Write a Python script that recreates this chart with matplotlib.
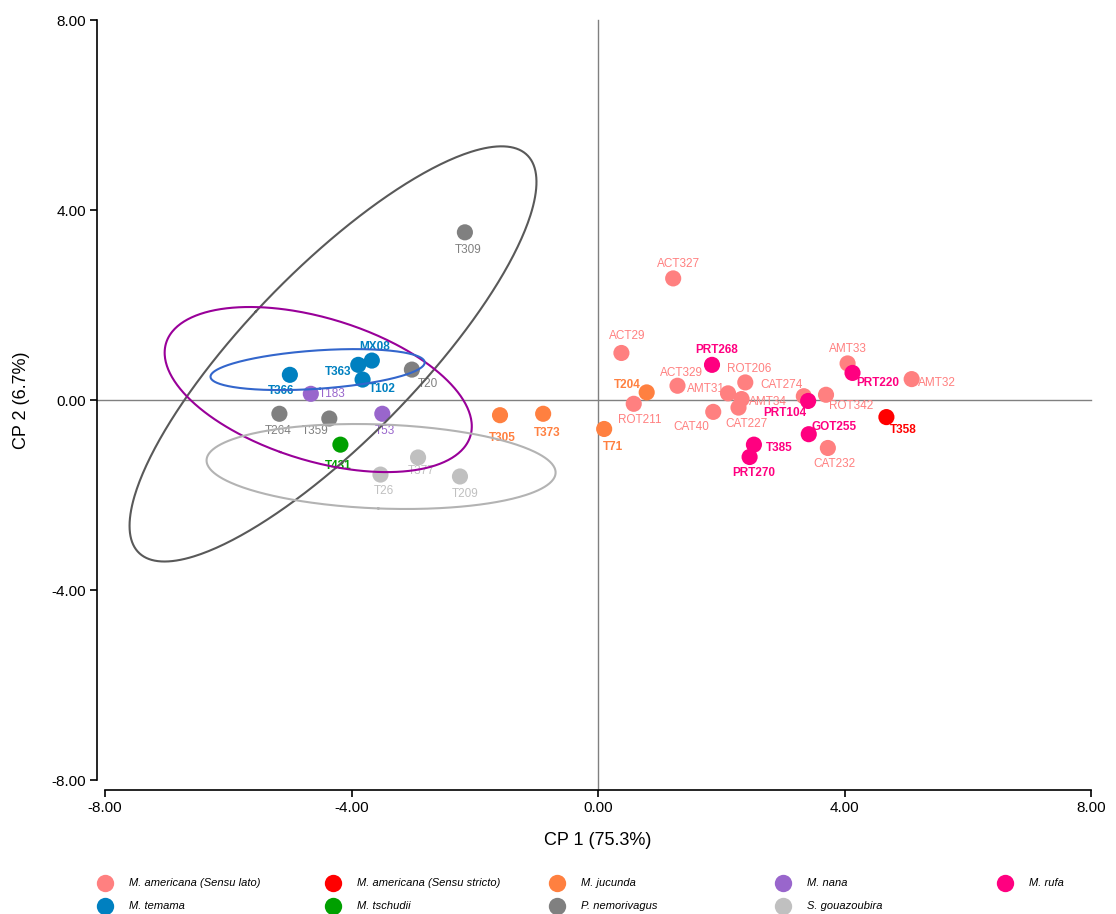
import numpy as np
import matplotlib.pyplot as plt
from matplotlib.lines import Line2D

plt.rcParams['font.family'] = ['Liberation Sans', 'DejaVu Sans']

# PCA scores (CP1, CP2) per specimen, grouped by species
lato_ids = ['ACT327', 'ACT29', 'ACT329', 'ROT211', 'ROT206', 'AMT31', 'AMT34',
            'CAT227', 'CAT40', 'CAT274', 'ROT342', 'AMT33', 'AMT32', 'CAT232']
lato_cp1 = [1.22, 0.38, 1.29, 0.58, 2.39, 2.11, 2.33, 2.28, 1.87, 3.34, 3.70, 4.05, 5.09, 3.73]
lato_cp2 = [2.56, 0.99, 0.30, -0.08, 0.37, 0.14, 0.02, -0.16, -0.25, 0.08, 0.11, 0.77, 0.44, -1.01]

stricto_ids = ['T358']
stricto_cp1 = [4.68]
stricto_cp2 = [-0.36]

jucunda_ids = ['T204', 'T305', 'T373', 'T71']
jucunda_cp1 = [0.79, -1.59, -0.89, 0.10]
jucunda_cp2 = [0.16, -0.32, -0.29, -0.61]

nana_ids = ['T183', 'T53']
nana_cp1 = [-4.66, -3.50]
nana_cp2 = [0.13, -0.29]

rufa_ids = ['PRT268', 'PRT220', 'PRT104', 'GOT255', 'T385', 'PRT270']
rufa_cp1 = [1.85, 4.13, 3.41, 3.42, 2.53, 2.46]
rufa_cp2 = [0.74, 0.57, -0.02, -0.72, -0.94, -1.20]

temama_ids = ['T366', 'T363', 'MX08', 'T102']
temama_cp1 = [-5.00, -3.89, -3.67, -3.82]
temama_cp2 = [0.53, 0.74, 0.83, 0.43]

tschudii_ids = ['T431']
tschudii_cp1 = [-4.18]
tschudii_cp2 = [-0.94]

nemo_ids = ['T309', 'T20', 'T264', 'T359']
nemo_cp1 = [-2.16, -3.02, -5.17, -4.36]
nemo_cp2 = [3.53, 0.64, -0.29, -0.39]

gouaz_ids = ['T26', 'T377', 'T209']
gouaz_cp1 = [-3.53, -2.92, -2.24]
gouaz_cp2 = [-1.57, -1.21, -1.61]

# confidence ellipses: centre and covariance-shape matrix (CP units)
nemo_ell_centre = (-4.30, 0.97)
nemo_ell_cov = [[10.9, 11.95], [11.95, 19.1]]
nana_ell_centre = (-4.54, 0.22)
nana_ell_cov = [[6.21, -1.93], [-1.93, 3.02]]
temama_ell_centre = (-4.55, 0.64)
temama_ell_cov = [[3.02, 0.26], [0.26, 0.186]]
gouaz_ell_centre = (-3.52, -1.40)
gouaz_ell_cov = [[8.02, -0.36], [-0.36, 0.80]]

groups = [
    ('M. americana (Sensu lato)', '#FF8080', 'normal', lato_ids, lato_cp1, lato_cp2),
    ('M. americana (Sensu stricto)', '#FF0000', 'bold', stricto_ids, stricto_cp1, stricto_cp2),
    ('M. jucunda', '#FF8040', 'bold', jucunda_ids, jucunda_cp1, jucunda_cp2),
    ('M. nana', '#9966CC', 'normal', nana_ids, nana_cp1, nana_cp2),
    ('M. rufa', '#FF0080', 'bold', rufa_ids, rufa_cp1, rufa_cp2),
    ('M. temama', '#0080C0', 'bold', temama_ids, temama_cp1, temama_cp2),
    ('M. tschudii', '#00A000', 'bold', tschudii_ids, tschudii_cp1, tschudii_cp2),
    ('P. nemorivagus', '#808080', 'normal', nemo_ids, nemo_cp1, nemo_cp2),
    ('S. gouazoubira', '#C0C0C0', 'normal', gouaz_ids, gouaz_cp1, gouaz_cp2),
]

# where each point label sits relative to its marker (pixels, x right / y up)
label_offsets = {
    'ACT327': (5, 14), 'ACT29': (6, 17), 'ACT329': (4, 13), 'ROT211': (6, -16),
    'ROT206': (4, 13), 'AMT31': (-22, 4), 'AMT34': (26, -3), 'CAT227': (8, -16),
    'CAT40': (-22, -15), 'CAT274': (-22, 11), 'ROT342': (25, -11), 'AMT33': (0, 14),
    'AMT32': (25, -4), 'CAT232': (7, -16),
    'PRT268': (5, 15), 'PRT220': (25, -10), 'PRT104': (-23, -12), 'GOT255': (25, 7),
    'T385': (25, -3), 'PRT270': (4, -16),
    'T358': (17, -13),
    'T204': (-19, 7), 'T305': (2, -23), 'T373': (4, -19), 'T71': (9, -18),
    'T183': (21, 0), 'T53': (3, -17),
    'T366': (-9, -16), 'T363': (-20, -7), 'MX08': (3, 14), 'T102': (20, -9),
    'T431': (-2, -21),
    'T309': (3, -18), 'T20': (16, -14), 'T264': (-1, -17), 'T359': (-14, -12),
    'T26': (3, -16), 'T377': (3, -14), 'T209': (5, -18),
}

ellipses = [
    (nemo_ell_centre, nemo_ell_cov, '#595959'),
    (nana_ell_centre, nana_ell_cov, '#990099'),
    (temama_ell_centre, temama_ell_cov, '#3366CC'),
    (gouaz_ell_centre, gouaz_ell_cov, '#B3B3B3'),
]

fig = plt.figure(figsize=(11.16, 9.14), dpi=100)
ax = fig.add_axes([105 / 1116, 1 - 780 / 914, 986 / 1116, 760 / 914])

# reference lines through the origin
ax.plot([0, 0], [-8.21, 8], color='#808080', lw=1.0, clip_on=False, zorder=1)
ax.plot([-8.13, 8], [0, 0], color='#808080', lw=1.0, clip_on=False, zorder=1)

for name, col, weight, ids, xs, ys in groups:
    ax.scatter(xs, ys, s=135, color=col, edgecolors='none', zorder=3)
    for lab, x, y in zip(ids, xs, ys):
        dx, dy = label_offsets[lab]
        ax.annotate(lab, (x, y), xytext=(dx, dy), textcoords='offset pixels',
                    ha='center', va='center', fontsize=8.5, color=col,
                    fontweight=weight, zorder=2)

t = np.linspace(0, 2 * np.pi, 400)
for centre, cov, col in ellipses:
    vals, vecs = np.linalg.eigh(np.array(cov))
    pts = vecs @ np.diag(np.sqrt(vals)) @ np.vstack([np.cos(t), np.sin(t)])
    ax.plot(centre[0] + pts[0], centre[1] + pts[1], color=col, lw=1.5, zorder=4)

ax.set_xlim(-8, 8)
ax.set_ylim(-8, 8)
ticks = [-8, -4, 0, 4, 8]
ax.set_xticks(ticks)
ax.set_yticks(ticks)
ax.set_xticklabels(['%.2f' % v for v in ticks])
ax.set_yticklabels(['%.2f' % v for v in ticks])
ax.tick_params(length=5, width=1.2, labelsize=11, pad=3)

for s in ['top', 'right']:
    ax.spines[s].set_visible(False)
ax.spines['left'].set_position(('outward', 5.8))
ax.spines['bottom'].set_position(('outward', 7.2))
for s in ['left', 'bottom']:
    ax.spines[s].set_linewidth(1.2)

ax.set_xlabel('CP 1 (75.3%)', fontsize=13, labelpad=12)
ax.set_ylabel('CP 2 (6.7%)', fontsize=13, labelpad=15)

# legend laid out as a 5 x 2 grid under the plot
col_x = [105, 333, 557, 783, 1005]
row_y = [883, 906]
for i, (name, col, weight, ids, xs, ys) in enumerate(groups):
    r, c = divmod(i, 5)
    fx = col_x[c] / 1116
    fy = 1 - row_y[r] / 914
    fig.add_artist(Line2D([fx], [fy], marker='o', markersize=12.5, color=col,
                          markeredgecolor='none', linestyle='none',
                          transform=fig.transFigure))
    fig.text(fx + 24 / 1116, fy, name, fontsize=8, style='italic',
             va='center', ha='left')

fig.savefig('out.png', dpi=100)
